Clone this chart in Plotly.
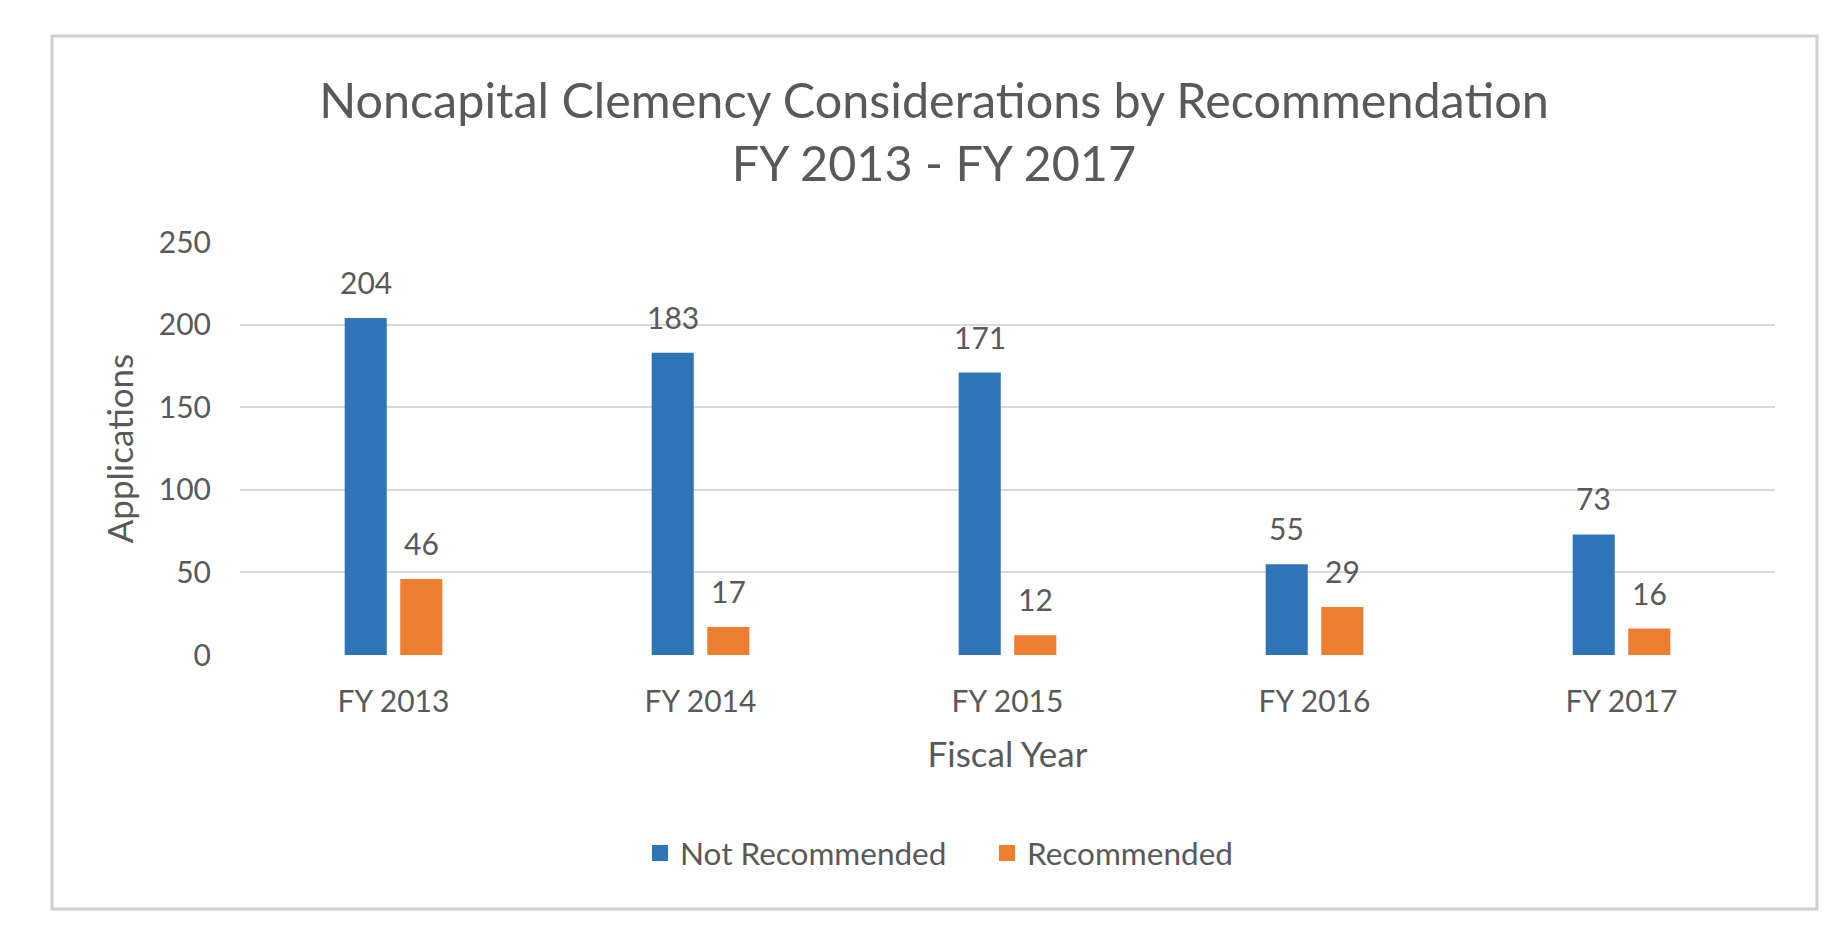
import plotly.graph_objects as go

# ---- data ----
fiscal_years = ["FY 2013", "FY 2014", "FY 2015", "FY 2016", "FY 2017"]
not_recommended = [204, 183, 171, 55, 73]
recommended = [46, 17, 12, 29, 16]
y_ticks = [0, 50, 100, 150, 200, 250]
series_names = ["Not Recommended", "Recommended"]

# ---- layout constants (pixels) ----
W, H = 1843, 934
ML, MR, MT, MB = 240, 68, 242, 279
PW = W - ML - MR
PH = H - MT - MB

FONT = "Lato"
TXT = "#595959"
BLUE = "#2E74B6"
ORANGE = "#ED7D31"


def px_to_paper_x(px):
    return (px - ML) / PW


def px_to_paper_y(py):
    return (H - MB - py) / PH


fig = go.Figure()
for name, vals, col in ((series_names[0], not_recommended, BLUE),
                        (series_names[1], recommended, ORANGE)):
    fig.add_trace(go.Bar(name=name, x=fiscal_years, y=vals, showlegend=False,
                         legendgroup=name, marker=dict(color=col, line=dict(width=0))))
# legend entries with larger square swatches
for name, col in ((series_names[0], BLUE), (series_names[1], ORANGE)):
    fig.add_trace(go.Scatter(name=name, x=[None], y=[None], mode="markers",
                             legendgroup=name, hoverinfo="skip",
                             marker=dict(symbol="square", size=16, color=col)))

# data labels above bars
bargap = 0.638
group_w = (1 - bargap) * PW / len(fiscal_years)
shift = group_w / 4
annotations = []
for series, sgn in ((not_recommended, -1), (recommended, 1)):
    for cat, v in zip(fiscal_years, series):
        annotations.append(dict(x=cat, y=v, xref="x", yref="y", text=str(v),
                                showarrow=False, xanchor="center", yanchor="bottom",
                                xshift=sgn * shift, yshift=16,
                                font=dict(family=FONT, size=30, color=TXT)))

fig.update_layout(
    width=W, height=H, autosize=False,
    margin=dict(l=ML, r=MR, t=MT, b=MB, pad=0),
    paper_bgcolor="white", plot_bgcolor="white",
    barmode="group", bargap=bargap, bargroupgap=0.243,
    font=dict(family=FONT, color=TXT),
    title=dict(text="Noncapital Clemency Considerations by Recommendation<br>FY 2013 - FY 2017",
               x=934 / W, xanchor="center", xref="container",
               y=1 - 118 / H, yanchor="top", yref="container",
               font=dict(family=FONT, size=48.5, color=TXT)),
    xaxis=dict(type="category", showgrid=False, zeroline=False, showline=False,
               ticks="", tickfont=dict(family=FONT, size=30, color=TXT),
               ticklabelstandoff=26,
               title=dict(text="Fiscal Year", font=dict(family=FONT, size=35, color=TXT),
                          standoff=25)),
    yaxis=dict(range=[0, 250], tickvals=y_ticks, showgrid=True, gridcolor="#D9D9D9",
               gridwidth=2, zeroline=False, showline=False, ticks="",
               tickfont=dict(family=FONT, size=30, color=TXT), ticklabelstandoff=28,
               title=dict(text="Applications", font=dict(family=FONT, size=35, color=TXT),
                          standoff=14)),
    legend=dict(orientation="h", x=px_to_paper_x(987), xanchor="center",
                y=px_to_paper_y(853), yanchor="middle", entrywidth=302,
                entrywidthmode="pixels",
                font=dict(family=FONT, size=31.5, color=TXT), bgcolor="rgba(0,0,0,0)"),
    annotations=annotations,
    shapes=[dict(type="rect", xref="paper", yref="paper",
                 x0=px_to_paper_x(52), x1=px_to_paper_x(1817),
                 y0=px_to_paper_y(909), y1=px_to_paper_y(36),
                 line=dict(color="#D0D0D0", width=3), fillcolor="rgba(0,0,0,0)",
                 layer="below")],
)

fig.write_html("out.html", config={"displayModeBar": False},
               post_script="document.body.style.margin='0';")
